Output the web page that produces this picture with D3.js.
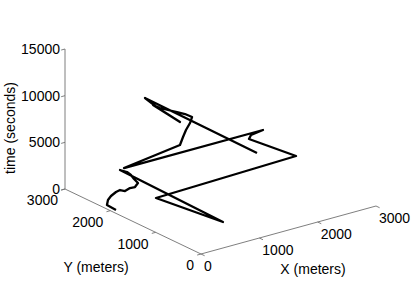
<!DOCTYPE html>
<html>
<head>
<meta charset="utf-8">
<script src="https://cdn.jsdelivr.net/npm/d3@7"></script>
<style>
  body { margin: 0; background: #fff; }
  text { font-family: "Liberation Sans", Arial, Helvetica, sans-serif; font-size: 14px; fill: #000; }
</style>
</head>
<body>
<script>
// path samples: X, Y (meters) and time (seconds)
var pathX = [77, 71, 164, 256, 370, 438, 448, 539, 595, 687, 703, 729, 722, 649,
  522, 254, 2630, 2420, 2523, 2746, 270,
  1319, 1407, 1471, 1547, 1578,
  1527, 1443, 1348, 1264, 1214, 1078, 1115, 1158, 1040];
var pathY = [1974, 2166, 2263, 2315, 2351, 2350, 2253, 2260, 2222, 2274, 2382, 2483, 2562, 2622,
  187, 1320, 1288, 2056, 2143, 2166, 2046,
  2161, 2207, 2224, 2233, 2228,
  2318, 2386, 2463, 2531, 2620, 1850, 2383, 2726, 103];
var pathT = [0, 100, 250, 400, 550, 650, 750, 900, 1000, 1150, 1300, 1450, 1600, 1800,
  2100, 2500, 3000, 3400, 3450, 3550, 4000,
  4400, 5000, 5600, 6200, 6800,
  7000, 7200, 7400, 7600, 7800, 8000, 8200, 8400, 8800];

var xTicks = [0, 1000, 2000, 3000];
var yTicks = [0, 1000, 2000, 3000];
var zTicks = [0, 5000, 10000, 15000];

//settings
var width = 415, height = 282;
var origin = [201, 254];
var xVec = [175, -48], yVec = [-136, -65], zVec = [0, -140];

var xs = d3.scaleLinear().domain([0, 3000]).range([0, 1]);
var ys = d3.scaleLinear().domain([0, 3000]).range([0, 1]);
var zs = d3.scaleLinear().domain([0, 15000]).range([0, 1]);

function proj(x, y, z) {
  var u = xs(x), v = ys(y), w = zs(z);
  return [origin[0] + u * xVec[0] + v * yVec[0] + w * zVec[0],
          origin[1] + u * xVec[1] + v * yVec[1] + w * zVec[1]];
}

var svg = d3.select('body').append('svg')
  .attr('width', width).attr('height', height);

var axisColor = '#707070';

// axis lines
var axes = [
  [proj(0, 0, 0), proj(3000, 0, 0)],
  [proj(0, 0, 0), proj(0, 3000, 0)],
  [proj(0, 3000, 0), proj(0, 3000, 15000)]
];
svg.selectAll('line.axis').data(axes).enter().append('line')
  .attr('class', 'axis')
  .attr('x1', function(d) { return d[0][0]; }).attr('y1', function(d) { return d[0][1]; })
  .attr('x2', function(d) { return d[1][0]; }).attr('y2', function(d) { return d[1][1]; })
  .attr('stroke', axisColor).attr('stroke-width', 0.9);

// tick marks: x ticks toward -Y, y and z ticks toward -X
var tickLen = 4;
function unit(v) { var l = Math.sqrt(v[0] * v[0] + v[1] * v[1]); return [v[0] / l, v[1] / l]; }
var tx = unit([-yVec[0], -yVec[1]]);
var ty = unit([-xVec[0], -xVec[1]]);

function drawTicks(cls, ticks, posFn, dir) {
  svg.selectAll('line.' + cls).data(ticks).enter().append('line')
    .attr('class', cls)
    .attr('x1', function(d) { return posFn(d)[0]; })
    .attr('y1', function(d) { return posFn(d)[1]; })
    .attr('x2', function(d) { return posFn(d)[0] + dir[0] * tickLen; })
    .attr('y2', function(d) { return posFn(d)[1] + dir[1] * tickLen; })
    .attr('stroke', axisColor).attr('stroke-width', 0.9);
}
var xPos = function(d) { return proj(d, 0, 0); };
var yPos = function(d) { return proj(0, d, 0); };
var zPos = function(d) { return proj(0, 3000, d); };
drawTicks('xt', xTicks, xPos, tx);
drawTicks('yt', yTicks, yPos, ty);
drawTicks('zt', zTicks, zPos, ty);

// tick labels
svg.selectAll('text.xl').data(xTicks).enter().append('text')
  .attr('class', 'xl')
  .attr('x', function(d) { return xPos(d)[0] + 3; })
  .attr('y', function(d) { return xPos(d)[1] + 12.5; })
  .attr('dy', '0.35em')
  .text(function(d) { return d; });

svg.selectAll('text.yl').data(yTicks).enter().append('text')
  .attr('class', 'yl')
  .attr('text-anchor', 'end')
  .attr('x', function(d) { return yPos(d)[0] - 7; })
  .attr('y', function(d) { return yPos(d)[1] + 11.5; })
  .attr('dy', '0.35em')
  .text(function(d) { return d; });

svg.selectAll('text.zl').data(zTicks).enter().append('text')
  .attr('class', 'zl')
  .attr('text-anchor', 'end')
  .attr('x', function(d) { return zPos(d)[0] - 5; })
  .attr('y', function(d) { return zPos(d)[1]; })
  .attr('dy', '0.35em')
  .text(function(d) { return d; });

// axis titles
svg.append('text').attr('x', 313).attr('y', 274).attr('text-anchor', 'middle').text('X (meters)');
svg.append('text').attr('x', 96).attr('y', 272).attr('text-anchor', 'middle').text('Y (meters)');
svg.append('text').attr('transform', 'translate(15,128) rotate(-90)')
  .attr('text-anchor', 'middle').text('time (seconds)');

// the space-time path
var pts = pathX.map(function(x, i) { return proj(x, pathY[i], pathT[i]); });
svg.append('path')
  .attr('d', d3.line()(pts))
  .attr('fill', 'none')
  .attr('stroke', '#000')
  .attr('stroke-width', 2.3)
  .attr('stroke-linejoin', 'round')
  .attr('stroke-linecap', 'butt');
</script>
</body>
</html>
